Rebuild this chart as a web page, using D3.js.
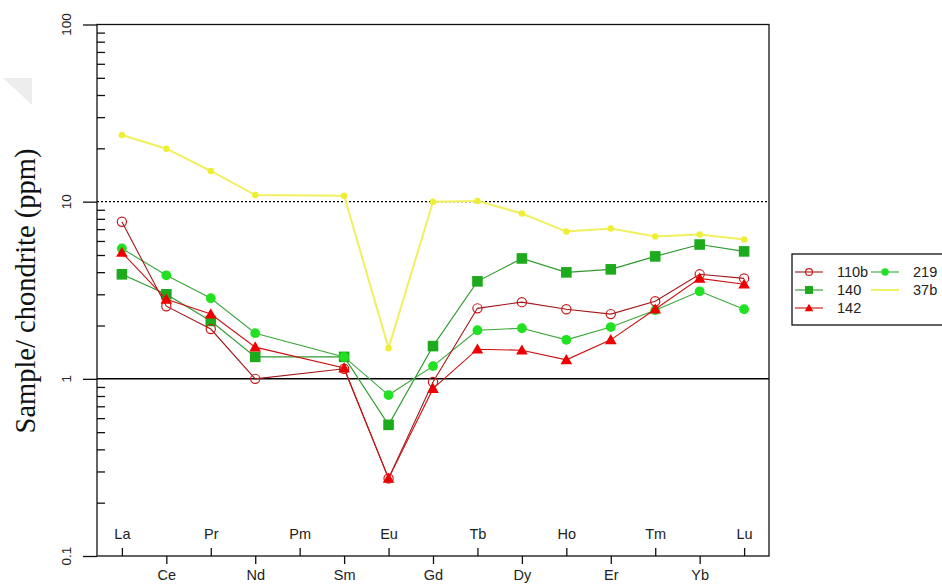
<!DOCTYPE html>
<html>
<head>
<meta charset="utf-8">
<script src="https://cdn.jsdelivr.net/npm/d3@7"></script>
<style>
  html, body { margin: 0; padding: 0; background: #ffffff; }
  svg { display: block; }
</style>
</head>
<body>
<svg id="chart" width="942" height="588"></svg>
<script>
// ---- data ----
const elements = ["La","Ce","Pr","Nd","Pm","Sm","Eu","Gd","Tb","Dy","Ho","Er","Tm","Yb","Lu"];
const s110b = [7.7, 2.57, 1.91, 1.0, null, 1.14, 0.274, 0.96, 2.5, 2.71, 2.47, 2.32, 2.74, 3.89, 3.69];
const s140  = [3.89, 3.0, 2.12, 1.33, null, 1.33, 0.55, 1.53, 3.55, 4.78, 3.99, 4.15, 4.91, 5.73, 5.24];
const s142  = [5.17, 2.81, 2.32, 1.51, null, 1.15, 0.274, 0.88, 1.47, 1.45, 1.28, 1.66, 2.47, 3.69, 3.42];
const s219  = [5.44, 3.84, 2.85, 1.81, null, 1.33, 0.81, 1.18, 1.88, 1.93, 1.66, 1.96, 2.44, 3.12, 2.47];
const s37b  = [23.8, 19.9, 14.9, 10.9, null, 10.8, 1.49, 10.0, 10.1, 8.57, 6.78, 7.05, 6.36, 6.53, 6.12];
const seriesNames = ["110b","140","142","219","37b"];
const majorTicks = [0.1, 1, 10, 100];
const majorLabels = ["0.1", "1", "10", "100"];

// ---- styling ----
const styles = {
  "110b": {line: "#a31818", fill: "none",    stroke: "#c81a1a", shape: "circle",   r: 4.6, lw: 1.1},
  "140":  {line: "#2f9a2f", fill: "#1daa1d", stroke: "#1daa1d", shape: "square",   r: 5.3, lw: 1.1},
  "142":  {line: "#cc1010", fill: "#ee0000", stroke: "#ee0000", shape: "triangle", r: 5.8, lw: 1.1},
  "219":  {line: "#3aa83a", fill: "#22e022", stroke: "#22e022", shape: "circle",   r: 4.9, lw: 1.1},
  "37b":  {line: "#f0f060", fill: "#eeee33", stroke: "#eeee33", shape: "circle",   r: 3.2, lw: 2}
};
const allSeries = {"110b": s110b, "140": s140, "142": s142, "219": s219, "37b": s37b};

const svg = d3.select("#chart");
const pLeft = 97, pRight = 769, pTop = 24.5, pBottom = 556;

const x = d3.scaleLinear().domain([-0.56, 14.56]).range([pLeft, pRight]);
const y = d3.scaleLog().domain([0.1, 100]).range([pBottom, pTop]);

// faint scan artifact
svg.append("path").attr("d", "M3,78 L32,78 L32,105 Z").attr("fill", "#ededed");

// reference lines
svg.append("line").attr("x1", pLeft).attr("x2", pRight).attr("y1", y(10)).attr("y2", y(10))
  .attr("stroke", "#000").attr("stroke-width", 1.3).attr("stroke-dasharray", "2,2");
svg.append("line").attr("x1", pLeft).attr("x2", pRight).attr("y1", y(1)).attr("y2", y(1))
  .attr("stroke", "#000").attr("stroke-width", 1.5);

// box
svg.append("rect").attr("x", pLeft).attr("y", pTop).attr("width", pRight - pLeft).attr("height", pBottom - pTop)
  .attr("fill", "none").attr("stroke", "#111").attr("stroke-width", 1.3);

// y axis: major ticks outward
const yMajor = svg.append("g").attr("transform", `translate(${pLeft},0)`)
  .call(d3.axisLeft(y).tickValues(majorTicks).tickSize(14).tickFormat(""));
yMajor.select(".domain").remove();
yMajor.selectAll("line").attr("stroke", "#111").attr("stroke-width", 1.3);

// minor ticks inward
const minor = [];
[0.1, 1, 10].forEach(d => { for (let k = 2; k <= 9; k++) minor.push(+(d * k).toPrecision(3)); });
const yMinor = svg.append("g").attr("transform", `translate(${pLeft},0)`)
  .call(d3.axisRight(y).tickValues(minor).tickSize(8).tickFormat(""));
yMinor.select(".domain").remove();
yMinor.selectAll("line").attr("stroke", "#111").attr("stroke-width", 1.3);

// y labels rotated
svg.append("g").selectAll("text").data(majorTicks).join("text")
  .attr("transform", (d) => `translate(71,${y(d)}) rotate(-90)`)
  .attr("text-anchor", "middle")
  .attr("font-family", "Liberation Sans, Arial, sans-serif")
  .attr("font-size", 13.5)
  .attr("fill", "#222")
  .text((d, i) => majorLabels[i]);

// x axis: alternate labels inside (upper) and outside (lower)
const idx = d3.range(elements.length);
const upper = idx.filter(i => i % 2 === 0);
const lower = idx.filter(i => i % 2 === 1);
const xTop = svg.append("g").attr("transform", `translate(0,${pBottom})`)
  .call(d3.axisTop(x).tickValues(upper).tickSize(8).tickPadding(9).tickFormat(i => elements[i]));
xTop.select(".domain").remove();
const xBot = svg.append("g").attr("transform", `translate(0,${pBottom})`)
  .call(d3.axisBottom(x).tickValues(lower).tickSize(8).tickPadding(6).tickFormat(i => elements[i]));
xBot.select(".domain").remove();
[xTop, xBot].forEach(g => {
  g.selectAll("line").attr("stroke", "#111").attr("stroke-width", 1.3);
  g.selectAll("text").attr("font-family", "Liberation Sans, Arial, sans-serif")
    .attr("font-size", 14.5).attr("fill", "#222");
});

// y title
svg.append("text")
  .attr("transform", "translate(35,291) rotate(-90)")
  .attr("text-anchor", "middle")
  .attr("font-family", "Liberation Serif, Times New Roman, serif")
  .attr("font-size", 28.5)
  .attr("fill", "#111")
  .text("Sample/ chondrite (ppm)");

// marker drawing
function drawMarker(g, shape, cx, cy, st) {
  if (shape === "circle") {
    g.append("circle").attr("cx", cx).attr("cy", cy).attr("r", st.r)
      .attr("fill", st.fill).attr("stroke", st.stroke).attr("stroke-width", st.fill === "none" ? 1.2 : 0);
  } else if (shape === "square") {
    g.append("rect").attr("x", cx - st.r).attr("y", cy - st.r).attr("width", 2 * st.r).attr("height", 2 * st.r)
      .attr("fill", st.fill);
  } else if (shape === "triangle") {
    const r = st.r;
    g.append("path").attr("d", `M${cx},${cy - r} L${cx + r},${cy + r * 0.75} L${cx - r},${cy + r * 0.75} Z`)
      .attr("fill", st.fill);
  }
}

// series (draw order)
const order = ["37b", "140", "219", "110b", "142"];
const line = d3.line().defined(d => d.v != null).x(d => x(d.i)).y(d => y(d.v));
order.forEach(name => {
  const st = styles[name];
  const pts = allSeries[name].map((v, i) => ({i, v})).filter(d => d.v != null);
  const g = svg.append("g");
  g.append("path").datum(pts).attr("d", line).attr("fill", "none")
    .attr("stroke", st.line).attr("stroke-width", st.lw);
  pts.forEach(d => drawMarker(g, st.shape, x(d.i), y(d.v), st));
});

// legend
const lg = svg.append("g");
lg.append("rect").attr("x", 792).attr("y", 254).attr("width", 160).attr("height", 71)
  .attr("fill", "#fff").attr("stroke", "#111").attr("stroke-width", 1.3);
const legendPos = [
  {name: "110b", lx: 795, ly: 272},
  {name: "140",  lx: 795, ly: 290},
  {name: "142",  lx: 795, ly: 308},
  {name: "219",  lx: 871, ly: 272},
  {name: "37b",  lx: 871, ly: 290}
];
legendPos.forEach(p => {
  const st = styles[p.name];
  lg.append("line").attr("x1", p.lx).attr("x2", p.lx + 28).attr("y1", p.ly).attr("y2", p.ly)
    .attr("stroke", st.line).attr("stroke-width", st.lw);
  if (p.name !== "37b") {
    const small = Object.assign({}, st, {r: st.r * 0.75});
    drawMarker(lg, st.shape, p.lx + 14, p.ly, small);
  }
  lg.append("text").attr("x", p.lx + 42).attr("y", p.ly + 5)
    .attr("font-family", "Liberation Sans, Arial, sans-serif").attr("font-size", 14.5).attr("fill", "#222")
    .text(p.name);
});
</script>
</body>
</html>
